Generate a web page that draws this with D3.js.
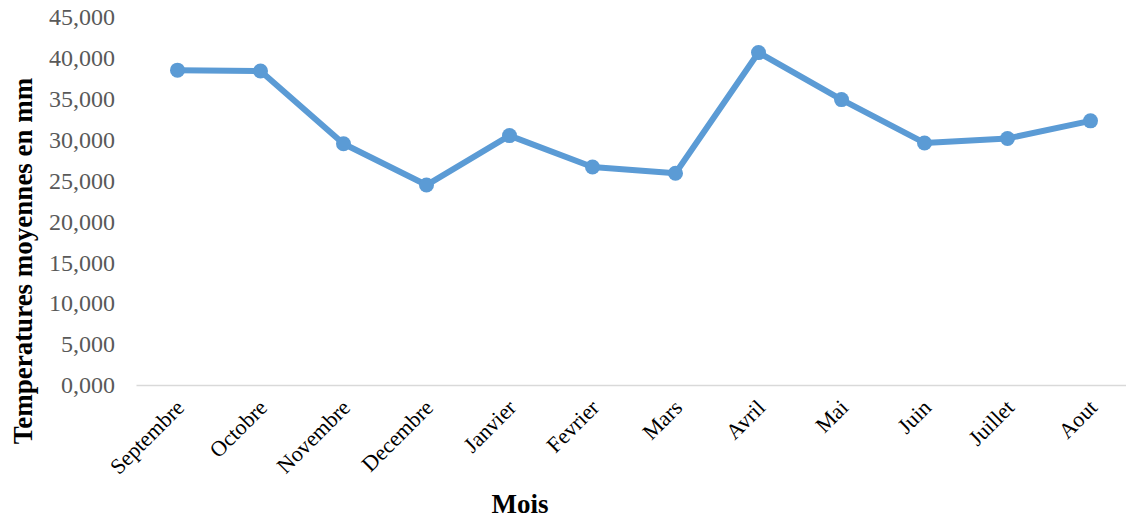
<!DOCTYPE html>
<html>
<head>
<meta charset="utf-8">
<script src="https://cdn.jsdelivr.net/npm/d3@7"></script>
<style>
  html, body { margin: 0; padding: 0; background: #fff; }
  svg { display: block; }
</style>
</head>
<body>
<svg id="chart" width="1126" height="520"></svg>
<script>
// Monthly averages, September through August
const months = ["Septembre", "Octobre", "Novembre", "Decembre", "Janvier", "Fevrier",
                "Mars", "Avril", "Mai", "Juin", "Juillet", "Aout"];
const values = [38500, 38400, 29500, 24450, 30500, 26650,
                25900, 40650, 34900, 29600, 30150, 32300];
const yTicks = [0, 5000, 10000, 15000, 20000, 25000, 30000, 35000, 40000, 45000];

const svg = d3.select("#chart");
const margin = { left: 136, right: 0, top: 17, bottom: 135 };
const width = 1126, height = 520;
const serif = "'Liberation Serif', 'Times New Roman', serif";

const x = d3.scaleBand()
  .domain(months)
  .range([margin.left, margin.left + 83 * 12])
  .paddingInner(0).paddingOuter(0);

const y = d3.scaleLinear()
  .domain([0, 45000])
  .range([height - margin.bottom, margin.top]);

const tickLabel = v => (v / 1000).toFixed(3).replace(".", ",");

// Y axis: labels only
const yAxis = svg.append("g")
  .attr("transform", `translate(${margin.left},0)`)
  .call(d3.axisLeft(y).tickValues(yTicks).tickFormat(tickLabel).tickSize(0).tickPadding(21));
yAxis.select(".domain").remove();
yAxis.selectAll("text")
  .attr("font-family", serif)
  .attr("font-size", 24)
  .attr("fill", "#595959");

// X axis: baseline and rotated month names
const xAxis = svg.append("g")
  .attr("transform", `translate(0,${y(0)})`)
  .call(d3.axisBottom(x).tickSize(0).tickPadding(0));
xAxis.select(".domain")
  .attr("stroke", "#d9d9d9")
  .attr("stroke-width", 1.5);
xAxis.selectAll("text")
  .attr("font-family", serif)
  .attr("font-size", 22)
  .attr("fill", "#000")
  .attr("text-anchor", "end")
  .attr("dy", 0)
  .attr("transform", "translate(8,24) rotate(-45)");

// Series line
const cx = d => x(d) + x.bandwidth() / 2;
const data = months.map((m, i) => ({ m, v: values[i] }));

svg.append("path")
  .datum(data)
  .attr("fill", "none")
  .attr("stroke", "#5b9bd5")
  .attr("stroke-width", 6)
  .attr("stroke-linejoin", "round")
  .attr("d", d3.line().x(d => cx(d.m)).y(d => y(d.v)));

svg.append("g").selectAll("circle")
  .data(data)
  .join("circle")
  .attr("cx", d => cx(d.m))
  .attr("cy", d => y(d.v))
  .attr("r", 7.5)
  .attr("fill", "#5b9bd5");

// Axis titles
svg.append("text")
  .attr("transform", `translate(32,261) rotate(-90)`)
  .attr("text-anchor", "middle")
  .attr("font-family", serif)
  .attr("font-weight", "bold")
  .attr("font-size", 27)
  .text("Temperatures moyennes en mm");

svg.append("text")
  .attr("x", 520)
  .attr("y", 513)
  .attr("text-anchor", "middle")
  .attr("font-family", serif)
  .attr("font-weight", "bold")
  .attr("font-size", 27)
  .text("Mois");
</script>
</body>
</html>
